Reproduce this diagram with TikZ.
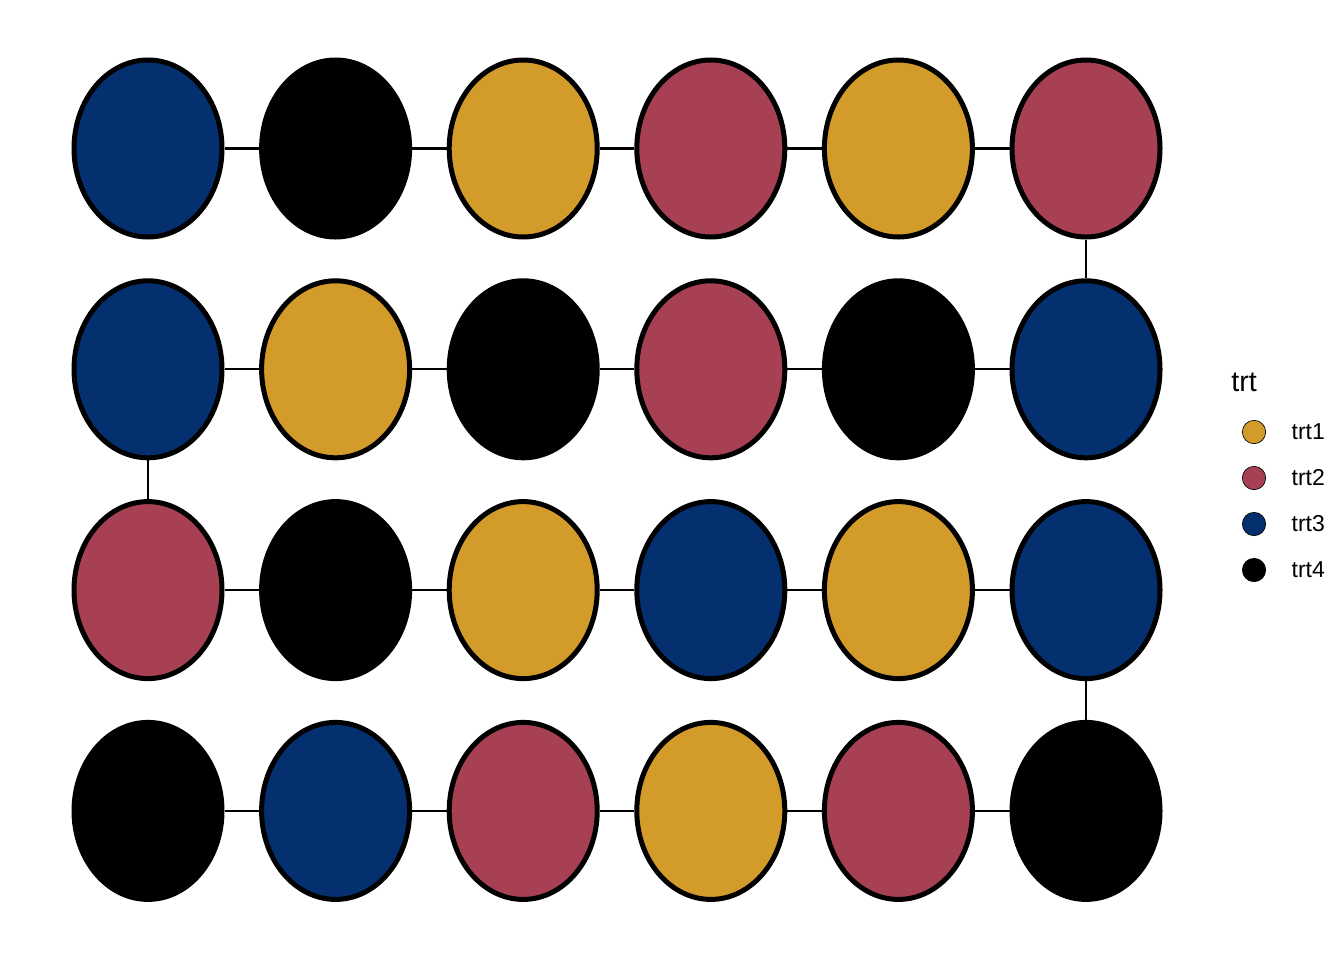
\documentclass[tikz,border=0pt]{standalone}
\usepackage{fontspec}
\setmainfont{Liberation Sans}
\usetikzlibrary{shapes.geometric,positioning}
\definecolor{trtA}{RGB}{211,155,41}
\definecolor{trtB}{RGB}{168,64,84}
\definecolor{trtC}{RGB}{5,48,112}
\definecolor{trtD}{RGB}{0,0,0}

\begin{document}
\begin{tikzpicture}[x=0.75pt,y=-0.75pt,
  cell/.style={ellipse,draw=black,line width=3.75pt,inner sep=0pt,
    minimum width=111pt,minimum height=132.75pt},
  link/.style={line width=1.6pt,black},
  key/.style={circle,draw=black,line width=0.5pt,inner sep=0pt,minimum size=17.5pt},
  keylab/.style={font=\fontsize{17.25}{20}\selectfont,inner sep=0pt,anchor=west}]
\useasboundingbox (0,0) rectangle (1344,960);
% ---- field plots, row by row ----
\foreach \row/\cols in {1/{trtC,trtD,trtA,trtB,trtA,trtB},
                        2/{trtC,trtA,trtD,trtB,trtD,trtC},
                        3/{trtB,trtD,trtA,trtC,trtA,trtC},
                        4/{trtD,trtC,trtB,trtA,trtB,trtD}} {
  \foreach \fc [count=\col] in \cols {
    \node[cell,fill=\fc] (p\row-\col) at ({148+187.6*(\col-1)},{148.5+220.8*(\row-1)}) {};
  }
}
% serpentine links between neighbouring plots
\foreach \row in {1,...,4} {
  \foreach \col [remember=\col as \prev (initially 1)] in {2,...,6} {
    \draw[link] (p\row-\prev) -- (p\row-\col);
  }
}
\draw[link] (p1-6) -- (p2-6);
\draw[link] (p2-1) -- (p3-1);
\draw[link] (p3-6) -- (p4-6);
% ---- legend ----
\node[font=\fontsize{21.5}{24}\selectfont,inner sep=0pt,anchor=west] (title) at (1231,382) {trt};
\foreach \i/\fc in {1/trtA,2/trtB,3/trtC,4/trtD} {
  \node[key,fill=\fc] (k\i) at (1254,{432+46*(\i-1)}) {};
  \node[keylab,right=19pt of k\i] (l\i) {trt\i};
}
\end{tikzpicture}
\end{document}
